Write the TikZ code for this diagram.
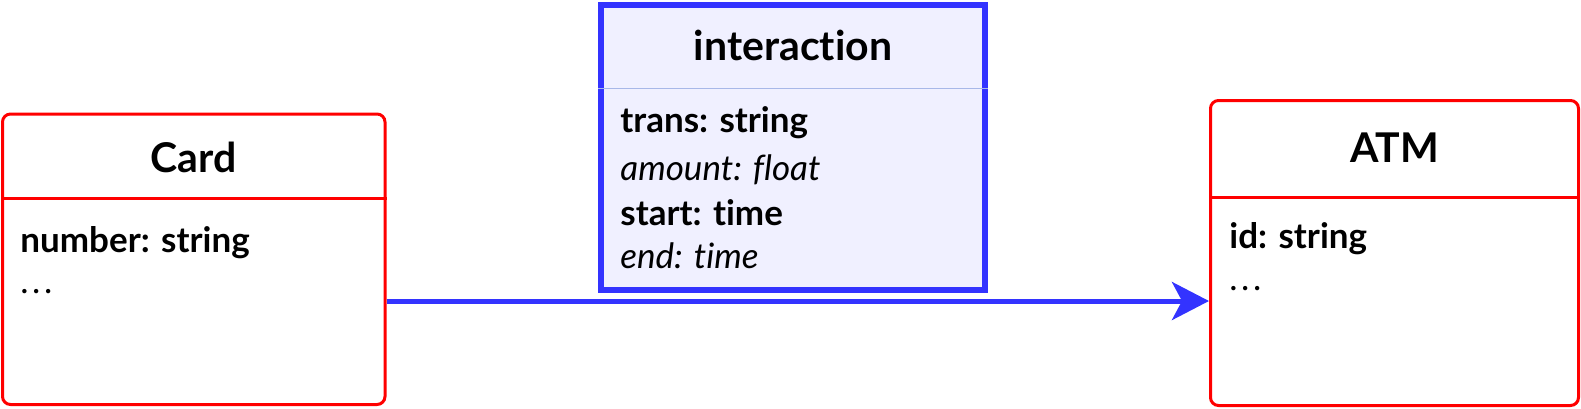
\documentclass[tikz,border=0pt]{standalone}
\usepackage{fontspec}
\setmainfont{Lato}[Ligatures={NoCommon,NoContextual}, RawFeature={-liga;-clig;-dlig;-calt}]
\usetikzlibrary{arrows.meta}
\definecolor{umlred}{HTML}{FF0000}
\definecolor{umlblue}{HTML}{3333FF}
\definecolor{assocfill}{HTML}{F0F0FF}
\definecolor{assocrule}{HTML}{A8B8E8}

\begin{document}
\begin{tikzpicture}[x=0.5pt, y=-0.5pt,
  title/.style={font=\fontsize{20.5}{24}\selectfont\bfseries, anchor=base, inner sep=0},
  attr/.style={font=\fontsize{17.5}{21}\selectfont, anchor=base west, inner sep=0},
  cls/.style={draw=umlred, line width=1.5pt, rounded corners=4pt, inner sep=0},
  assoc/.style={draw=umlblue, fill=assocfill, line width=3pt, inner sep=0},
  arr/.style={-{Stealth[length=18.5pt, width=19pt, inset=5pt]}, umlblue, line width=2.5pt}]
  \useasboundingbox (0,0) rectangle (1581,408);
  % class boxes
  \node[cls, minimum width=191.25pt, minimum height=145.25pt] (card) at (193.75,259.25) {};
  \node[cls, minimum width=184pt, minimum height=152.5pt] (atm) at (1394.5,253) {};
  \node[assoc, minimum width=192pt, minimum height=142.75pt] (inter) at (793,147.25) {};
  \draw[umlred, line width=1.5pt] (card.west |- 0,198) -- (card.east |- 0,198);
  \draw[umlred, line width=1.5pt] (atm.west |- 0,197) -- (atm.east |- 0,197);
  \draw[assocrule, line width=0.5pt] (inter.west |- 0,88) -- (inter.east |- 0,88);
  % titles
  \node[title] (cardname) at (193.75,172) {Card};
  \node[title] (atmname) at (1394.5,162) {ATM};
  \node[title] (intername) at (793,60) {interaction};
  % attributes
  \node[attr] (number) at (20,252) {\bfseries number: string};
  \node[attr] (carddots) at (20,293) {.\kern1.8pt.\kern1.8pt.};
  \node[attr] (id) at (1229,248) {\bfseries id: string};
  \node[attr] (atmdots) at (1229,290) {.\kern1.8pt.\kern1.8pt.};
  \node[attr] (trans) at (620,132) {\bfseries trans: string};
  \node[attr] (amount) at (620,180) {\itshape amount: float};
  \node[attr] (start) at (620,225) {\bfseries start: time};
  \node[attr] (stop) at (620,268) {\itshape end: time};
  % association
  \coordinate (link) at (0,301);
  \draw[arr] (card.east |- link) -- (atm.west |- link);
\end{tikzpicture}
\end{document}
